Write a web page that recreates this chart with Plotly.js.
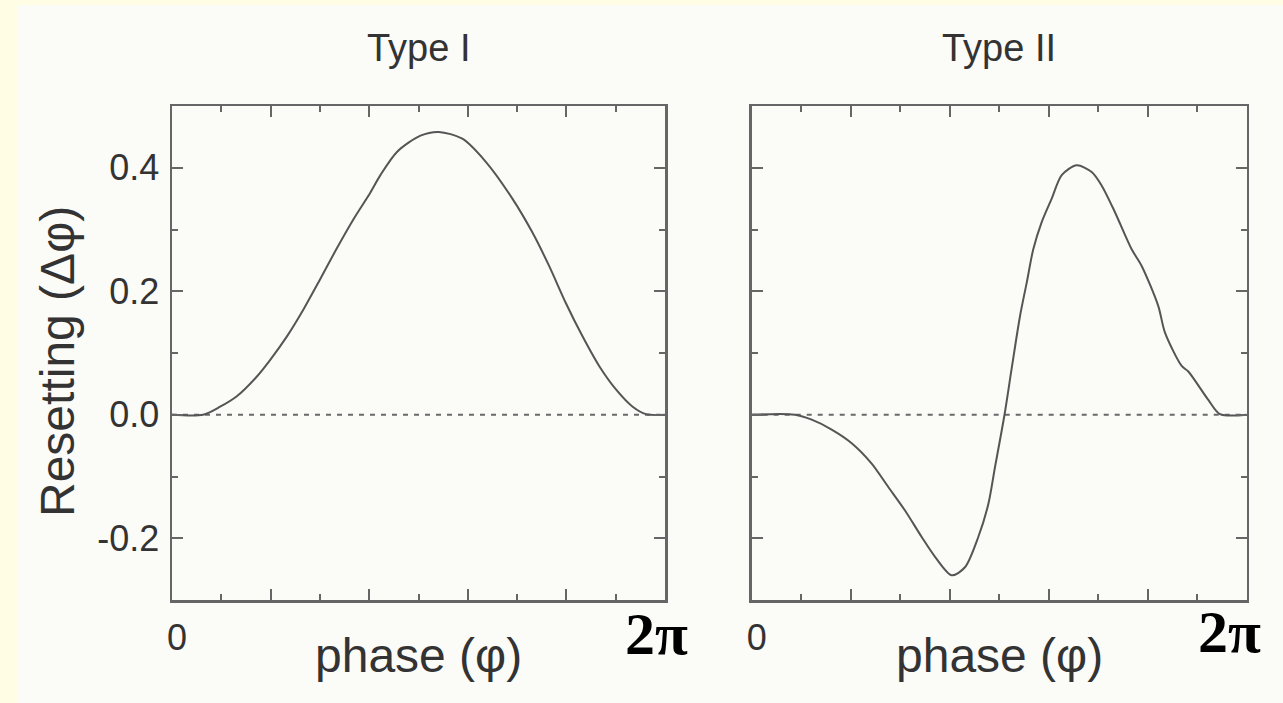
<!DOCTYPE html>
<html><head><meta charset="utf-8">
<script src="https://cdn.plot.ly/plotly-3.0.1.min.js"></script>
<style>html,body{margin:0;padding:0;background:#fffde4;} #chart{width:1283px;height:703px;}</style>
</head><body><div id="chart"></div>
<script>
const panelTitles = ["Type I", "Type II"];
const xAxisTitle = "phase (φ)";
const yAxisTitle = "Resetting (Δφ)";
const cycleEndLabel = "2π";

// phase in radians, resetting in cycles
const typeIPhase = [0, 0.396, 0.613, 0.826, 1.082, 1.252, 1.465, 1.677, 1.890, 2.103, 2.315, 2.529, 2.656, 2.870, 3.167, 3.401, 3.700, 3.997, 4.338, 4.594, 4.806, 5.019, 5.232, 5.444, 5.658, 5.871, 6.041, 6.283];
const typeIReset = [0, 0, 0.013, 0.030, 0.062, 0.089, 0.127, 0.171, 0.220, 0.270, 0.317, 0.360, 0.388, 0.426, 0.452, 0.458, 0.447, 0.410, 0.350, 0.295, 0.241, 0.181, 0.127, 0.079, 0.041, 0.013, 0.001, 0];

const typeIIPhase = [0, 0.550, 0.762, 1.015, 1.269, 1.523, 1.734, 1.946, 2.158, 2.327, 2.539, 2.707, 2.876, 3.003, 3.088, 3.209, 3.300, 3.406, 3.491, 3.574, 3.681, 3.808, 3.935, 4.125, 4.316, 4.443, 4.611, 4.823, 4.950, 5.161, 5.246, 5.458, 5.542, 5.796, 5.944, 6.283];
const typeIIReset = [0, 0, -0.008, -0.024, -0.046, -0.079, -0.117, -0.155, -0.198, -0.230, -0.260, -0.247, -0.198, -0.145, -0.085, 0.0, 0.075, 0.160, 0.214, 0.268, 0.312, 0.350, 0.388, 0.404, 0.393, 0.371, 0.328, 0.268, 0.241, 0.176, 0.133, 0.079, 0.070, 0.024, 0.001, 0];

const yTickVals = [-0.2, 0, 0.2, 0.4];
const yTickText = ["-0.2", "0.0", "0.2", "0.4"];
const yMinorVals = [-0.3, -0.1, 0.1, 0.3];
const xTickText = ["0", "", "", "", "", ""];

const TWO_PI = 2 * Math.PI;
const xTickVals = xTickText.map((_, i) => i * TWO_PI / 5);
const xMinorVals = [1, 3, 5, 7, 9].map(k => k * TWO_PI / 10);

const W = 1283, H = 703;
const axisColor = "#666666";
const textColor = "#333333";
const sans = "Liberation Sans, Arial, sans-serif";

const lineStyle = {color: "#555555", width: 2, shape: "spline", smoothing: 0.8};

const traces = [
  {x: typeIPhase, y: typeIReset, type: "scatter", mode: "lines", line: lineStyle, xaxis: "x", yaxis: "y", name: panelTitles[0], hoverinfo: "x+y"},
  {x: typeIIPhase, y: typeIIReset, type: "scatter", mode: "lines", line: lineStyle, xaxis: "x2", yaxis: "y2", name: panelTitles[1], hoverinfo: "x+y"}
];

function xAxis(domain, anchor) {
  return {
    domain: domain, anchor: anchor, range: [0, TWO_PI],
    showgrid: false, zeroline: false,
    showline: true, linecolor: axisColor, linewidth: 2.5, mirror: "allticks",
    ticks: "inside", ticklen: 11, tickwidth: 2, tickcolor: axisColor,
    tickmode: "array", tickvals: xTickVals, ticktext: xTickText,
    ticklabelstandoff: 4, ticklabelshift: 5,
    tickfont: {family: sans, size: 36, color: textColor},
    minor: {tickmode: "array", tickvals: xMinorVals, ticks: "inside", ticklen: 6, tickwidth: 2, tickcolor: axisColor, showgrid: false},
    fixedrange: true
  };
}
function yAxis(anchor, showLabels) {
  return {
    domain: [1 - 600 / H, 1 - 106 / H], anchor: anchor, range: [-0.3, 0.5],
    showgrid: false, zeroline: false,
    showline: true, linecolor: axisColor, linewidth: 2.5, mirror: "allticks",
    ticks: "inside", ticklen: 11, tickwidth: 2, tickcolor: axisColor,
    tickmode: "array", tickvals: yTickVals, ticktext: yTickText,
    showticklabels: showLabels, ticklabelstandoff: 3,
    tickfont: {family: sans, size: 36, color: textColor},
    minor: {tickmode: "array", tickvals: yMinorVals, ticks: "inside", ticklen: 6, tickwidth: 2, tickcolor: axisColor, showgrid: false},
    fixedrange: true
  };
}

const leftDom = [172 / W, 665 / W];
const rightDom = [751.7 / W, 1246.7 / W];
const cx = d => (d[0] + d[1]) / 2;

const zeroLine = (xr, yr) => ({type: "line", xref: xr + " domain", yref: yr, x0: 0, x1: 1, y0: 0, y1: 0,
  line: {color: "#6a6a6a", width: 2, dash: "5px,6px"}, layer: "below"});

const layout = {
  width: W, height: H,
  margin: {l: 0, r: 0, t: 0, b: 0},
  paper_bgcolor: "#fffde4",
  plot_bgcolor: "rgba(0,0,0,0)",
  showlegend: false,
  xaxis: xAxis(leftDom, "y"),
  yaxis: yAxis("x", true),
  xaxis2: xAxis(rightDom, "y2"),
  yaxis2: yAxis("x2", false),
  shapes: [
    {type: "rect", xref: "paper", yref: "paper", x0: 17 / W, x1: 1, y0: 0, y1: 1 - 5 / H,
     fillcolor: "#fbfbf8", line: {width: 0}, layer: "below"},
    zeroLine("x", "y"),
    zeroLine("x2", "y2")
  ],
  annotations: [
    {text: panelTitles[0], xref: "paper", yref: "paper", x: cx(leftDom), y: 1 - 48 / H, xanchor: "center", yanchor: "middle", showarrow: false, font: {family: sans, size: 38, color: textColor}},
    {text: panelTitles[1], xref: "paper", yref: "paper", x: cx(rightDom), y: 1 - 48 / H, xanchor: "center", yanchor: "middle", showarrow: false, font: {family: sans, size: 38, color: textColor}},
    {text: xAxisTitle, xref: "paper", yref: "paper", x: cx(leftDom), y: 1 - 655 / H, xanchor: "center", yanchor: "middle", showarrow: false, font: {family: sans, size: 48, color: textColor}},
    {text: xAxisTitle, xref: "paper", yref: "paper", x: cx(rightDom), y: 1 - 655 / H, xanchor: "center", yanchor: "middle", showarrow: false, font: {family: sans, size: 48, color: textColor}},
    {text: yAxisTitle, xref: "paper", yref: "paper", x: 57 / W, y: 1 - 362 / H, xanchor: "center", yanchor: "middle", textangle: -90, showarrow: false, font: {family: sans, size: 48, color: textColor}},
    {text: "<b>" + cycleEndLabel + "</b>", xref: "paper", yref: "paper", x: 656 / W, y: 1 - 634 / H, xanchor: "center", yanchor: "middle", showarrow: false, font: {family: "Liberation Serif, Times New Roman, serif", size: 60, color: "#000000"}},
    {text: "<b>" + cycleEndLabel + "</b>", xref: "paper", yref: "paper", x: 1229 / W, y: 1 - 632 / H, xanchor: "center", yanchor: "middle", showarrow: false, font: {family: "Liberation Serif, Times New Roman, serif", size: 60, color: "#000000"}}
  ]
};

Plotly.newPlot("chart", traces, layout, {displayModeBar: false, staticPlot: true});
</script>
</body></html>
